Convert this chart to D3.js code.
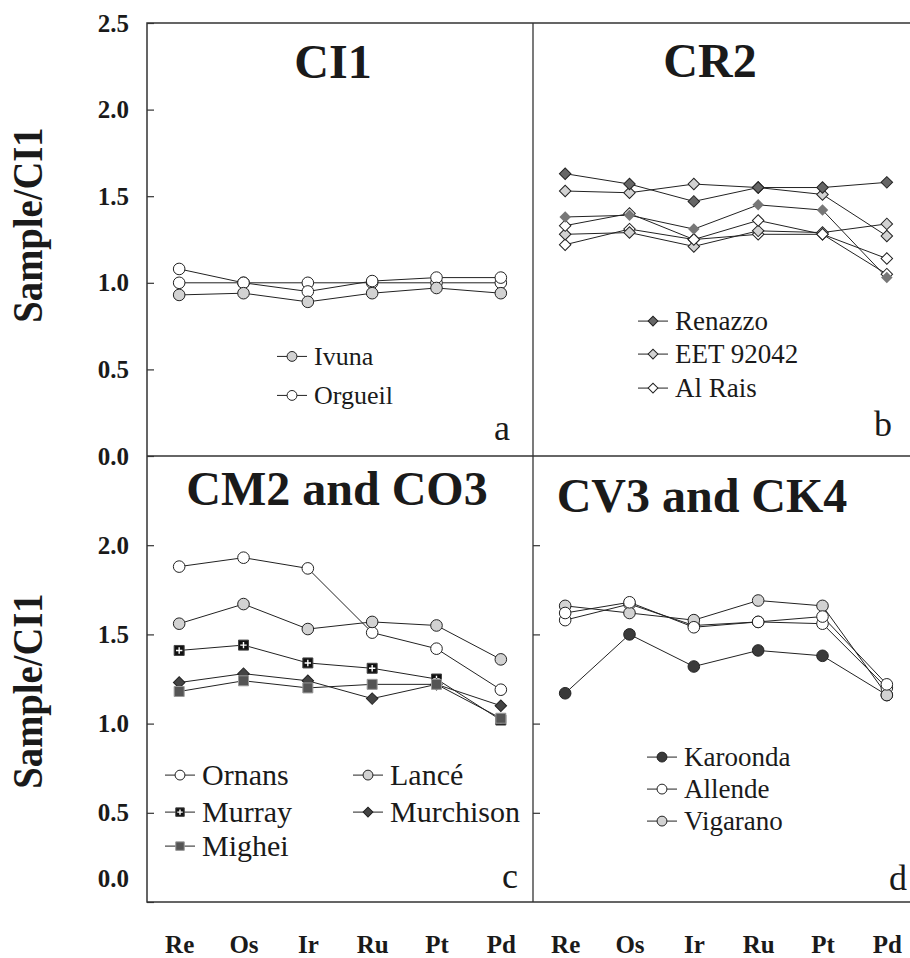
<!DOCTYPE html>
<html>
<head>
<meta charset="utf-8">
<script src="https://cdn.jsdelivr.net/npm/d3@7"></script>
<style>
  body { margin: 0; background: #fff; }
  svg text { font-family: "Liberation Serif", Tinos, "Times New Roman", Times, serif; fill: #1a1a1a; }
</style>
</head>
<body>
<div id="chart"></div>
<script>
// PGE patterns normalised to CI1, four chondrite groups

const elements = ["Re", "Os", "Ir", "Ru", "Pt", "Pd"];
const yTicksTop = [0, 0.5, 1.0, 1.5, 2.0, 2.5];
const yTicksBottom = [0, 0.5, 1.0, 1.5, 2.0];

// a - CI1
const ivuna = [0.93, 0.94, 0.89, 0.94, 0.97, 0.94];
const orgueil1 = [1.00, 1.00, 1.00, 1.00, 1.00, 1.00];
const orgueil2 = [1.08, 1.00, 0.95, 1.01, 1.03, 1.03];

// b - CR2
const renazzo1 = [1.63, 1.57, 1.47, 1.55, 1.55, 1.58];
const renazzo2 = [1.38, 1.39, 1.31, 1.45, 1.42, 1.03];
const eet1 = [1.53, 1.52, 1.57, 1.55, 1.51, 1.27];
const eet2 = [1.28, 1.29, 1.21, 1.30, 1.29, 1.34];
const alRais1 = [1.33, 1.40, 1.25, 1.36, 1.28, 1.14];
const alRais2 = [1.22, 1.31, 1.25, 1.28, 1.28, 1.05];

// c - CM2 and CO3
const ornans = [1.88, 1.93, 1.87, 1.51, 1.42, 1.19];
const lance = [1.56, 1.67, 1.53, 1.57, 1.55, 1.36];
const murray = [1.41, 1.44, 1.34, 1.31, 1.25, 1.02];
const murchison = [1.23, 1.28, 1.24, 1.14, 1.22, 1.10];
const mighei = [1.18, 1.24, 1.20, 1.22, 1.22, 1.03];

// d - CV3 and CK4
const karoonda = [1.17, 1.50, 1.32, 1.41, 1.38, 1.16];
const allende1 = [1.62, 1.68, 1.54, 1.57, 1.60, 1.22];
const allende2 = [1.58, 1.67, 1.55, 1.57, 1.56, 1.20];
const vigarano = [1.66, 1.62, 1.58, 1.69, 1.66, 1.16];

let width = 910,
    height = 958,
    frame = ({ left: 147, mid: 533, right: 919, top: 23, midY: 456, bottom: 902 });

const svg = d3.select("#chart")
    .append("svg")
    .attr("width", width)
    .attr("height", height)
    .attr("viewBox", [0, 0, width, height]);

let xLeft = d3.scalePoint().domain(elements).range([frame.left, frame.mid]).padding(0.5);
let xRight = d3.scalePoint().domain(elements).range([frame.mid, frame.right]).padding(0.5);
let yTop = d3.scaleLinear().domain([0, 2.5]).range([frame.midY, frame.top]);
let yBot = d3.scaleLinear().domain([0, 2.5]).range([frame.bottom, frame.midY]);

const lightGrey = "#d2d2d2", darkGrey = "#555", ink = "#222";

const panels = [
  { x: xLeft, y: yTop, title: "CI1", tx: 333, ty: 78, letter: "a", lx: 510, ly: 440, fs: 26,
    series: [
      { values: orgueil1, shape: "circle", fill: "#fff" },
      { values: orgueil2, shape: "circle", fill: "#fff" },
      { values: ivuna, shape: "circle", fill: lightGrey }
    ],
    legend: [
      { name: "Ivuna", shape: "circle", fill: lightGrey, x: 292, y: 365 },
      { name: "Orgueil", shape: "circle", fill: "#fff", x: 292, y: 404 }
    ] },
  { x: xRight, y: yTop, title: "CR2", tx: 710, ty: 77, letter: "b", lx: 892, ly: 436, fs: 27,
    series: [
      { values: alRais2, shape: "diamond", fill: "#fff" },
      { values: eet2, shape: "diamond", fill: lightGrey },
      { values: alRais1, shape: "diamond", fill: "#fff" },
      { values: renazzo2, shape: "diamond", fill: "#777", stroke: "none" },
      { values: eet1, shape: "diamond", fill: lightGrey },
      { values: renazzo1, shape: "diamond", fill: "#666" }
    ],
    legend: [
      { name: "Renazzo", shape: "diamond", fill: "#666", x: 653, y: 330 },
      { name: "EET 92042", shape: "diamond", fill: lightGrey, x: 653, y: 363 },
      { name: "Al Rais", shape: "diamond", fill: "#fff", x: 653, y: 397 }
    ] },
  { x: xLeft, y: yBot, title: "CM2 and CO3", tx: 337, ty: 505, letter: "c", lx: 518, ly: 888, fs: 30,
    series: [
      { values: ornans, shape: "circle", fill: "#fff" },
      { values: lance, shape: "circle", fill: lightGrey },
      { values: murray, shape: "plus", fill: "#111" },
      { values: murchison, shape: "diamond", fill: "#444" },
      { values: mighei, shape: "square", fill: darkGrey, stroke: "#999" }
    ],
    legend: [
      { name: "Ornans", shape: "circle", fill: "#fff", x: 180, y: 785 },
      { name: "Murray", shape: "plus", fill: "#111", x: 180, y: 822 },
      { name: "Mighei", shape: "square", fill: darkGrey, stroke: "#999", x: 180, y: 856 },
      { name: "Lancé", shape: "circle", fill: lightGrey, x: 368, y: 785 },
      { name: "Murchison", shape: "diamond", fill: "#444", x: 368, y: 822 }
    ] },
  { x: xRight, y: yBot, title: "CV3 and CK4", tx: 702, ty: 512, letter: "d", lx: 907, ly: 890, fs: 27,
    series: [
      { values: karoonda, shape: "circle", fill: "#3a3a3a" },
      { values: allende2, shape: "circle", fill: "#fff" },
      { values: vigarano, shape: "circle", fill: lightGrey },
      { values: allende1, shape: "circle", fill: "#fff" }
    ],
    legend: [
      { name: "Karoonda", shape: "circle", fill: "#3a3a3a", x: 662, y: 766 },
      { name: "Allende", shape: "circle", fill: "#fff", x: 662, y: 798 },
      { name: "Vigarano", shape: "circle", fill: lightGrey, x: 662, y: 830 }
    ] }
];

// marker drawing
function marker(g, shape, fill, stroke, scale) {
    let s = scale || 1;
    if (shape === "circle") {
        g.append("circle").attr("r", 5.8 * s)
            .attr("fill", fill).attr("stroke", stroke).attr("stroke-width", 1);
    } else if (shape === "diamond") {
        g.append("path").attr("d", d3.symbol(d3.symbolSquare, 66 * s * s)())
            .attr("transform", "rotate(45)")
            .attr("fill", fill).attr("stroke", stroke).attr("stroke-width", 1);
    } else if (shape === "square") {
        g.append("path").attr("d", d3.symbol(d3.symbolSquare, 100 * s * s)())
            .attr("fill", fill).attr("stroke", stroke).attr("stroke-width", 1);
    } else if (shape === "plus") {
        g.append("path").attr("d", d3.symbol(d3.symbolSquare, 100 * s * s)())
            .attr("fill", fill).attr("stroke", "#444").attr("stroke-width", 1);
        g.append("path").attr("d", `M${-3.2 * s},0H${3.2 * s}M0,${-3.2 * s}V${3.2 * s}`)
            .attr("stroke", "#fff").attr("stroke-width", 1.4);
    }
}

panels.forEach(p => {
    const line = d3.line()
        .x((d, i) => p.x(elements[i]))
        .y(d => p.y(d));

    const g = svg.append("g");

    p.series.forEach(s => {
        g.append("path")
            .attr("d", line(s.values))
            .attr("fill", "none")
            .attr("stroke", ink)
            .attr("stroke-width", 1);
    });

    p.series.forEach(s => {
        g.append("g")
            .selectAll("g")
            .data(s.values)
            .join("g")
            .attr("transform", (d, i) => `translate(${p.x(elements[i])},${p.y(d)})`)
            .each(function() {
                marker(d3.select(this), s.shape, s.fill, s.stroke || ink);
            });
    });

    // legend
    p.legend.forEach(l => {
        const lg = g.append("g").attr("transform", `translate(${l.x},${l.y - p.fs * 0.33})`);
        lg.append("line").attr("x1", -15).attr("x2", 15)
            .attr("stroke", ink).attr("stroke-width", 1);
        marker(lg, l.shape, l.fill, l.stroke || ink, 0.85);
        g.append("text")
            .attr("x", l.x + 22)
            .attr("y", l.y)
            .attr("font-size", p.fs)
            .text(l.name);
    });

    g.append("text")
        .attr("x", p.tx)
        .attr("y", p.ty)
        .attr("text-anchor", "middle")
        .attr("font-size", 48)
        .attr("font-weight", "bold")
        .text(p.title);

    g.append("text")
        .attr("x", p.lx)
        .attr("y", p.ly)
        .attr("text-anchor", "end")
        .attr("font-size", 36)
        .text(p.letter);
});

// frame
svg.append("rect")
    .attr("x", frame.left).attr("y", frame.top)
    .attr("width", frame.right - frame.left).attr("height", frame.bottom - frame.top)
    .attr("fill", "none").attr("stroke", "#333").attr("stroke-width", 1.5);
svg.append("line")
    .attr("x1", frame.left).attr("x2", frame.right)
    .attr("y1", frame.midY).attr("y2", frame.midY)
    .attr("stroke", "#333").attr("stroke-width", 1.5);
svg.append("line")
    .attr("x1", frame.mid).attr("x2", frame.mid)
    .attr("y1", frame.top).attr("y2", frame.bottom)
    .attr("stroke", "#333").attr("stroke-width", 1.3);

// y axes
svg.append("g")
    .attr("class", "y-axis")
    .attr("transform", `translate(${frame.left},0)`)
    .call(d3.axisLeft(yTop).tickValues(yTicksTop).tickSize(-7).tickPadding(18).tickFormat(d3.format(".1f")));

const yAxisBottom = svg.append("g")
    .attr("class", "y-axis")
    .attr("transform", `translate(${frame.left},0)`)
    .call(d3.axisLeft(yBot).tickValues(yTicksBottom).tickSize(-7).tickPadding(18).tickFormat(d3.format(".1f")));

// the bottom 0.0 label sits a little above the frame corner in the original
yAxisBottom.selectAll(".tick")
    .filter(d => d === 0)
    .select("text")
    .attr("y", -24);

svg.append("g")
    .attr("transform", `translate(${frame.mid},0)`)
    .call(d3.axisRight(yBot).tickValues(yTicksBottom.slice(1)).tickSize(7).tickFormat(""));

// x axes
svg.append("g")
    .attr("class", "x-axis")
    .attr("transform", `translate(0,${frame.bottom})`)
    .call(d3.axisBottom(xLeft).tickSize(0).tickPadding(33));
svg.append("g")
    .attr("class", "x-axis")
    .attr("transform", `translate(0,${frame.bottom})`)
    .call(d3.axisBottom(xRight).tickSize(0).tickPadding(33));

svg.selectAll(".domain").remove();
svg.selectAll(".tick line").attr("stroke", "#333").attr("stroke-width", 1.2);
svg.selectAll(".y-axis text, .x-axis text")
    .attr("font-size", 25)
    .attr("font-weight", "bold")
    .attr("fill", "#1a1a1a");

// y labels
[225, 691].forEach(cy => {
    svg.append("text")
        .attr("transform", `translate(42,${cy}) rotate(-90) scale(0.92,1)`)
        .attr("text-anchor", "middle")
        .attr("font-size", 42)
        .attr("font-weight", "bold")
        .text("Sample/CI1");
});
</script>
</body>
</html>
